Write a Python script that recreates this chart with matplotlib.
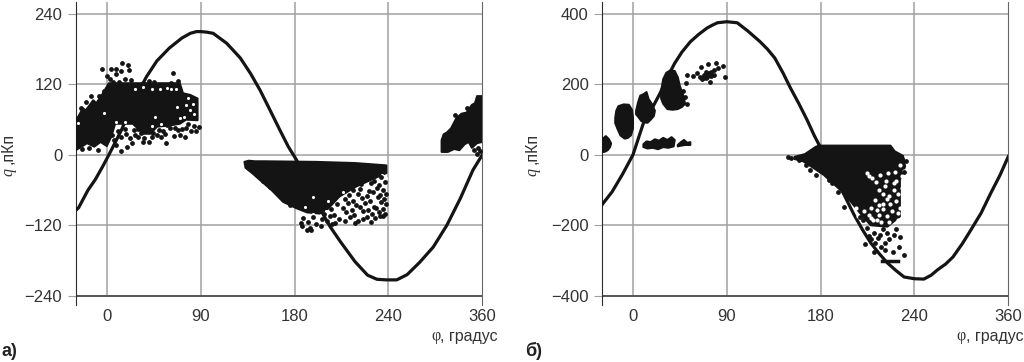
import matplotlib
matplotlib.use('Agg')
import matplotlib.pyplot as plt

plt.rcParams['font.family'] = ['Liberation Sans', 'DejaVu Sans']

DARK = '#2b2b2b'
GRID = '#a0a0a0'
INK = '#141414'

x_ticks = [0, 90, 180, 270, 360]
x_labels = ['0', '90', '180', '240', '360']

# panel a
a_y_ticks = [-240, -120, 0, 120, 240]
a_y_labels = ['\u2212240', '\u2212120', '0', '120', '240']
a_curve_x = [-30, -27, -18, -11, -4, 2, 14, 26, 38, 48, 60, 72, 80, 86, 90, 96, 102, 115, 128, 138, 147, 156, 166, 174, 182, 198, 214, 224, 231, 238, 250, 259, 268, 278, 288, 300, 313, 326, 339, 351, 360]
a_curve_q = [-95, -90, -60, -42, -20, 0, 42, 92, 133, 160, 182, 199, 207, 210, 210, 209, 207, 190, 165, 138, 110, 78, 42, 14, -9, -72, -122, -148, -165, -182, -205, -212, -213, -213, -204, -183, -157, -120, -74, -26, 0]

a_main_x = [-30, -27, -23, -20, -13, -10, -4, 0, 2, 30, 70, 73, 80, 87, 87, 76, 70, 60, 48, 42, 35, 25, 17, 8, 4, 0, -6, -12, -19, -24, -30]
a_main_q = [59, 66, 79, 76, 93, 88, 104, 116, 122, 122, 122, 105, 102, 96, 59, 60, 53, 50, 48, 36, 36, 53, 53, 53, 30, 15, 22, 14, 20, 14, 8]
a_fleck_x = [-5, 0, 4, 9, 15, 20, 21, 14, 3, 17, 23, 9, 6, 12, 40, 35, 45, 63, 68, 62, -15, -7, -20, -3, -25, 14, 9, 7, 19, 24, 22, 14, 27, 35, 40, 43, 48, 57, 54, 64, 70, 75, 86, 81, 76, 65, 58, 5, 11, 17, 30, 33, 38, 44, 50, 61, 72, 78, 84, 88, 52, 30, -8, -17, -24, 18, -2, 26, 36, 56, 68]
a_fleck_q = [146, 135, 147, 147, 156, 153, 144, 142, 130, 130, 128, 137, 124, 124, 125, 122, 124, 140, 125, 122, 100, 100, 90, 108, 80, 7, 17, 25, 13, 20, 28, 31, 34, 22, 22, 31, 34, 20, 40, 32, 34, 31, 40, 40, 45, 45, 51, 34, 40, 44, 30, 38, 42, 38, 42, 46, 44, 52, 50, 48, 30, 44, 8, 12, 10, 36, 24, 42, 28, 36, 42]
a_hole_x = [9, 27, 43, 51, 62, 67, 46, 17, 9, -3, 76, 80, 83, 74, 43, 52, -28, 35, 70, 78, 84, 58, 66]
a_hole_q = [128, 113, 113, 112, 113, 82, 65, 56, 56, 71, 85, 76, 87, 65, 49, 53, 55, 115, 62, 96, 70, 114, 112]

a_tri_x = [132, 136, 142, 150, 200, 238, 268, 268, 254, 239, 223, 212, 204, 192, 182, 169, 158, 147, 140, 133]
a_tri_q = [-12, -10, -11, -11, -12, -14, -18, -31, -42, -54, -71, -92, -100, -98, -91, -80, -60, -43, -32, -22]
a_tri_fleck_x = [247, 256, 263, 244, 253, 261, 267, 236, 243, 251, 259, 265, 232, 241, 249, 255, 262, 268, 228, 236, 245, 252, 260, 266, 221, 231, 239, 248, 256, 263, 268, 215, 226, 235, 243, 250, 258, 265, 208, 218, 229, 237, 246, 254, 261, 267, 188, 198, 206, 214, 223, 233, 241, 249, 257, 265, 186, 193, 201, 211, 219, 228, 238, 246, 253, 262, 187, 195, 205, 216, 176, 172, 164, 156, 150, 144, 192, 196]
a_tri_fleck_q = [-40, -44, -38, -50, -48, -52, -46, -60, -58, -62, -56, -60, -68, -66, -70, -64, -68, -66, -76, -78, -74, -78, -72, -76, -84, -82, -86, -82, -88, -80, -84, -92, -90, -94, -88, -94, -90, -92, -100, -102, -98, -102, -96, -100, -98, -100, -108, -106, -110, -104, -110, -106, -112, -106, -108, -104, -116, -114, -118, -112, -116, -112, -116, -110, -114, -104, -122, -124, -122, -118, -86, -78, -66, -54, -44, -34, -128, -128]
a_tri_hole_x = [262, 256, 266, 250, 244, 238, 232, 260, 252, 246, 240, 234, 228, 222, 216, 210, 204, 198, 264, 268, 258, 250, 190, 198, 212, 226]
a_tri_hole_q = [-45, -52, -60, -62, -66, -74, -82, -72, -78, -84, -90, -94, -98, -92, -100, -96, -104, -100, -34, -40, -88, -96, -88, -72, -78, -64]

a_right_x = [321, 323, 326, 330, 335, 340, 345, 350, 353, 355, 360, 360, 355, 350, 347, 343, 338, 333, 327, 321]
a_right_q = [25, 35, 38, 45, 62, 70, 72, 85, 88, 100, 100, 22, 20, 12, 22, 18, 8, 10, 5, 5]
a_right_fleck_x = [358, 355, 352, 356, 334, 345]
a_right_fleck_q = [6, 2, 8, 12, 68, 80]

# panel b
b_y_ticks = [-400, -200, 0, 200, 400]
b_y_labels = ['\u2212400', '\u2212200', '0', '200', '400']
b_curve_x = [-30, -20, -10, 0, 10, 18, 26, 33, 40, 47, 55, 63, 71, 76, 81, 90, 100, 110, 122, 129, 136, 144, 151, 159, 167, 174, 180, 212, 220, 228, 236, 244, 252, 260, 270, 279, 286, 292, 300, 307, 316, 324, 334, 343, 352, 360]
b_curve_q = [-143, -105, -55, 0, 90, 130, 175, 220, 260, 292, 321, 342, 360, 368, 375, 378, 375, 352, 321, 300, 275, 232, 190, 146, 99, 54, 20, -170, -212, -250, -280, -307, -328, -347, -352, -353, -342, -327, -310, -290, -252, -214, -165, -110, -58, -5]

b_blob1_x = [-30, -28, -26, -23, -21, -22, -24, -26, -28, -30]
b_blob1_q = [42, 48, 53, 44, 32, 22, 14, 10, 8, 9]
b_blob2_x = [-17, -16, -14, -9, -4, -1, 0, 0, -2, -5, -8, -12, -15, -17]
b_blob2_q = [105, 125, 138, 143, 142, 128, 105, 75, 55, 48, 46, 55, 75, 90]
b_blob3_x = [3, 5, 7, 10, 13, 15, 18, 21, 20, 17, 14, 11, 8, 5, 3]
b_blob3_q = [125, 150, 168, 172, 178, 158, 145, 125, 110, 100, 91, 92, 96, 108, 115]
b_blob4_x = [27, 29, 32, 36, 40, 43, 45, 48, 50, 47, 43, 38, 33, 29, 27]
b_blob4_q = [180, 215, 233, 240, 238, 220, 195, 170, 145, 136, 130, 128, 130, 145, 160]
b_low1_x = [10, 13, 17, 21, 25, 29, 33, 37, 40, 39, 34, 29, 24, 19, 14, 10]
b_low1_q = [30, 38, 36, 44, 40, 48, 42, 50, 42, 24, 20, 22, 16, 20, 18, 22]
b_low2_x = [43, 46, 49, 52, 55, 55, 50, 46, 43]
b_low2_q = [28, 36, 42, 34, 36, 28, 28, 26, 24]
b_top_fleck_x = [52, 58, 61, 64, 67, 70, 72, 72, 75, 75, 78, 78, 80, 74, 86, 88, 70, 65, 82, 48, 50, 52, 68, 71, 66, 73, 51]
b_top_fleck_q = [228, 225, 232, 222, 218, 218, 258, 228, 225, 236, 242, 228, 262, 208, 252, 222, 235, 250, 246, 180, 165, 145, 226, 222, 214, 232, 205]

b_tri_x = [155, 165, 175, 178, 247, 251, 259, 261, 256, 256, 244, 228, 218, 202, 183, 172, 163, 155]
b_tri_q = [-6, 2, 22, 26, 26, 10, -3, -33, -71, -175, -204, -200, -166, -108, -57, -35, -18, -12]
b_tri_hole_x = [224, 229, 237, 245, 251, 250, 242, 236, 246, 252, 256, 240, 234, 226, 230, 248, 254, 258, 244, 238, 256, 222, 216, 232, 250, 243, 236, 226, 233, 228, 240, 247, 254, 258, 254, 246, 240, 234, 252, 260, 214, 220, 228, 236, 244]
b_tri_hole_q = [-52, -67, -57, -52, -48, -81, -90, -100, -118, -130, -150, -140, -158, -170, -186, -160, -185, -60, -175, -190, -28, -160, -175, -128, -100, -75, -172, -60, -76, -180, -112, -140, -112, -95, -165, -190, -155, -185, -75, -45, -150, -185, -150, -142, -125]
b_tri_fleck_x = [149, 152, 159, 166, 170, 176, 180, 188, 191, 197, 202, 207, 213, 218, 221, 224, 231, 237, 244, 250, 256, 223, 231, 242, 242, 249, 255, 260, 235, 232, 258, 262, 260, 228, 240, 246, 252, 226, 238, 204]
b_tri_fleck_q = [-5, -10, -15, -30, -43, -57, -45, -71, -81, -105, -149, -124, -138, -176, -185, -209, -223, -228, -223, -228, -233, -253, -275, -251, -270, -275, -261, -285, -237, -251, -12, -18, -48, -240, -212, -240, -212, -230, -262, -100]
b_bar_x = [239, 254]
b_bar_q = [-302, -302]


def draw_panel(left, right, ylim, y_ticks, y_labels, curve_x, curve_q):
    ax = fig.add_axes([left / 1024, 1 - 305 / 362, (right - left) / 1024, 303 / 362])
    ax.set_xlim(-30, 360)
    ax.set_ylim(*ylim)
    ax.vlines(x_ticks[:-1], y_ticks[0], ylim[1], color=GRID, lw=1.1, zorder=1)
    ax.hlines(y_ticks[1:], -30, 360, color=GRID, lw=1.1, zorder=1)
    ax.hlines(y_ticks[0], -30, 360, color='#555555', lw=1.4, zorder=1)
    ax.plot(curve_x, curve_q, color=INK, lw=2.3, zorder=3, solid_joinstyle='round')
    ax.set_xticks(x_ticks)
    ax.set_xticklabels(x_labels)
    ax.set_yticks(y_ticks)
    ax.set_yticklabels(y_labels)
    ax.tick_params(axis='x', length=0, pad=3, labelsize=12, colors='#333333')
    ax.tick_params(axis='y', length=5.5, width=0.8, pad=4, labelsize=12, color=GRID, labelcolor='#333333')
    ax.spines['top'].set_visible(False)
    ax.spines['bottom'].set_visible(False)
    ax.spines['left'].set_color(DARK)
    ax.spines['right'].set_color('#666666')
    return ax


def cloud(ax, xs, qs):
    ax.fill(xs, qs, facecolor=INK, edgecolor=INK, lw=1.5, joinstyle='round', zorder=4)


def dots(ax, xs, qs, color=INK, size=12):
    ax.scatter(xs, qs, s=size, color=color, lw=0, zorder=5)


fig = plt.figure(figsize=(10.24, 3.62), dpi=100, facecolor='w')

ax_a = draw_panel(75.5, 482.3, (-255.8, 260.4), a_y_ticks, a_y_labels, a_curve_x, a_curve_q)
cloud(ax_a, a_main_x, a_main_q)
dots(ax_a, a_hole_x, a_hole_q, 'w', 5)
dots(ax_a, a_fleck_x, a_fleck_q)
cloud(ax_a, a_tri_x, a_tri_q)
dots(ax_a, a_tri_hole_x, a_tri_hole_q, 'w', 5)
dots(ax_a, a_tri_fleck_x, a_tri_fleck_q)
cloud(ax_a, a_right_x, a_right_q)
dots(ax_a, a_right_fleck_x, a_right_fleck_q)

ax_b = draw_panel(601.7, 1008.3, (-426.6, 434), b_y_ticks, b_y_labels, b_curve_x, b_curve_q)
for xs, qs in [(b_blob1_x, b_blob1_q), (b_blob2_x, b_blob2_q), (b_blob3_x, b_blob3_q),
               (b_blob4_x, b_blob4_q), (b_low1_x, b_low1_q), (b_low2_x, b_low2_q), (b_tri_x, b_tri_q)]:
    cloud(ax_b, xs, qs)
dots(ax_b, b_top_fleck_x, b_top_fleck_q)
dots(ax_b, b_tri_hole_x, b_tri_hole_q, 'w', 9)
dots(ax_b, b_tri_fleck_x, b_tri_fleck_q)
ax_b.plot(b_bar_x, b_bar_q, color=INK, lw=2.5, zorder=5)


def px_text(x, y, s, **kw):
    kw.setdefault('color', '#333333')
    kw.setdefault('fontsize', 11.5)
    fig.text(x / 1024, 1 - y / 362, s, va='center', **kw)


# axis captions
for y_lab in [8, 532]:
    px_text(y_lab, 172, 'q', rotation=90, ha='center', family='Liberation Serif', style='italic')
    px_text(y_lab, 148, ',пКп', rotation=90, ha='center')
px_text(431, 336, '\u03c6', ha='left', family='Liberation Serif')
px_text(440, 336, ', градус', ha='left')
px_text(956, 336, '\u03c6', ha='left', family='Liberation Serif')
px_text(966, 336, ', градус', ha='left')
px_text(2, 351, 'а)', ha='left', fontweight='bold', color='#222222', fontsize=13)
px_text(525, 351, 'б)', ha='left', fontweight='bold', color='#222222', fontsize=13)

fig.savefig('out.png', dpi=100)
